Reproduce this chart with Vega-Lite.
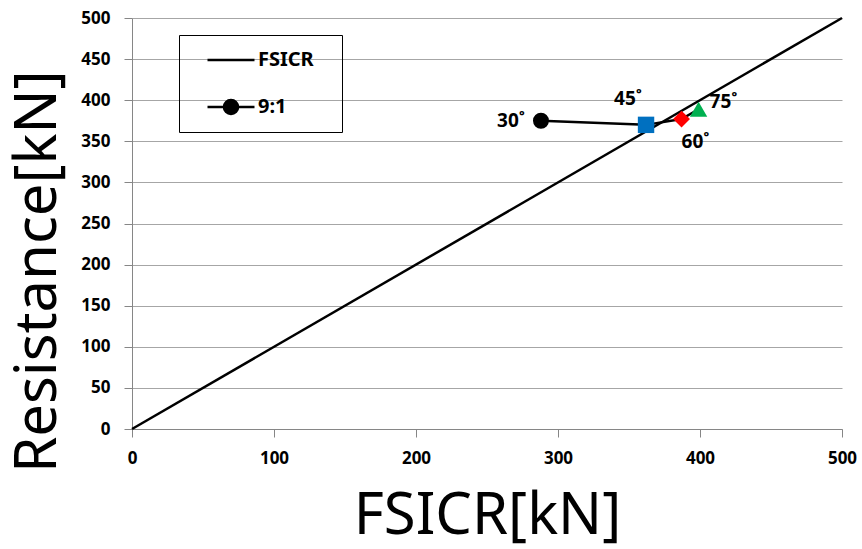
{
  "$schema": "https://vega.github.io/schema/vega-lite/v6.json",
  "width": 710,
  "height": 411,
  "autosize": {"type": "none"},
  "padding": {"left": 132, "top": 18, "right": 20, "bottom": 120},
  "background": "white",
  "config": {
    "view": {"stroke": null},
    "font": "Noto Sans",
    "axis": {
      "domainColor": "#868686",
      "tickColor": "#868686",
      "tickSize": 8,
      "labelFont": "Noto Sans",
      "labelFontSize": 17,
      "labelFontWeight": "bold",
      "labelColor": "#000000",
      "titleFont": "Noto Sans",
      "titleFontSize": 58,
      "titleFontWeight": "normal",
      "titleColor": "#000000",
      "gridColor": "#A6A6A6",
      "gridWidth": 1
    }
  },
  "datasets": {
    "rows": [
      {"series": "FSICR", "x": 0, "y": 0, "angle": null},
      {"series": "FSICR", "x": 500, "y": 500, "angle": null},
      {"series": "9:1", "x": 288, "y": 375, "angle": "30˚"},
      {"series": "9:1", "x": 362, "y": 370, "angle": "45˚"},
      {"series": "9:1", "x": 387, "y": 377, "angle": "60˚"},
      {"series": "9:1", "x": 399, "y": 389, "angle": "75˚"}
    ]
  },
  "data": {"name": "rows"},
  "encoding": {
    "x": {
      "field": "x", "type": "quantitative",
      "scale": {"domain": [0, 500], "nice": false, "zero": false},
      "axis": {
        "values": [0, 100, 200, 300, 400, 500],
        "grid": false,
        "labelFlush": false,
        "labelPadding": 13,
        "title": "FSICR[kN]",
        "titleY": 104,
        "titleBaseline": "alphabetic"
      }
    },
    "y": {
      "field": "y", "type": "quantitative",
      "scale": {"domain": [0, 500], "nice": false, "zero": false},
      "axis": {
        "values": [0, 50, 100, 150, 200, 250, 300, 350, 400, 450, 500],
        "grid": true,
        "labelFlush": false,
        "labelPadding": 14,
        "title": "Resistance[kN]",
        "titleAngle": -90,
        "titleX": -77,
        "titleY": 253,
        "titleAlign": "center",
        "titleBaseline": "alphabetic"
      }
    }
  },
  "layer": [
    {
      "mark": {"type": "line", "strokeWidth": 2.5},
      "encoding": {
        "color": {
          "field": "series", "type": "nominal",
          "scale": {"domain": ["FSICR", "9:1"], "range": ["#000000", "#000000"]},
          "legend": {
            "orient": "none",
            "legendX": 47,
            "legendY": 17,
            "title": "\u00a0",
            "titleOrient": "right",
            "titlePadding": 16,
            "titleFontSize": 10,
            "strokeColor": "#000000",
            "padding": 12,
            "symbolSize": 552,
            "symbolStrokeWidth": 2.5,
            "labelFont": "Noto Sans",
            "labelFontSize": 20,
            "labelFontWeight": "bold",
            "labelColor": "#000000",
            "labelOffset": 14,
            "rowPadding": 24,
            "symbolOffset": 27,
            "encode": {
              "symbols": {
                "update": {
                  "shape": {"signal": "datum.value == '9:1' ? 'M-2,0H2M-0.6,0A0.6,0.6 0 1,1 0.6,0A0.6,0.6 0 1,1 -0.6,0Z' : 'M-2,0H2'"},
                  "fill": {"value": "#000000"},
                  "stroke": {"value": "#000000"}
                }
              }
            }
          }
        }
      }
    },
    {
      "transform": [{"filter": "datum.series == '9:1'"}],
      "mark": {"type": "point", "filled": true, "opacity": 1},
      "encoding": {
        "shape": {
          "field": "angle", "type": "nominal",
          "scale": {"domain": ["30˚", "45˚", "60˚", "75˚"], "range": ["circle", "square", "diamond", "triangle-up"]},
          "legend": null
        },
        "size": {
          "field": "angle", "type": "nominal",
          "scale": {"domain": ["30˚", "45˚", "60˚", "75˚"], "range": [254, 300, 225, 289]},
          "legend": null
        },
        "color": {
          "field": "angle", "type": "nominal",
          "scale": {"domain": ["30˚", "45˚", "60˚", "75˚"], "range": ["#000000", "#0070C0", "#FF0000", "#00B050"]},
          "legend": null
        }
      }
    },
    {
      "transform": [{"filter": "datum.angle == '30˚'"}],
      "mark": {"type": "text", "align": "right", "baseline": "middle", "dx": -16, "dy": 0, "fontSize": 19, "fontWeight": "bold", "font": "Noto Sans", "color": "#000000"},
      "encoding": {"text": {"field": "angle"}}
    },
    {
      "transform": [{"filter": "datum.angle == '45˚'"}],
      "mark": {"type": "text", "align": "center", "baseline": "middle", "dx": -18, "dy": -26, "fontSize": 19, "fontWeight": "bold", "font": "Noto Sans", "color": "#000000"},
      "encoding": {"text": {"field": "angle"}}
    },
    {
      "transform": [{"filter": "datum.angle == '60˚'"}],
      "mark": {"type": "text", "align": "center", "baseline": "middle", "dx": 14, "dy": 23, "fontSize": 19, "fontWeight": "bold", "font": "Noto Sans", "color": "#000000"},
      "encoding": {"text": {"field": "angle"}}
    },
    {
      "transform": [{"filter": "datum.angle == '75˚'"}],
      "mark": {"type": "text", "align": "center", "baseline": "middle", "dx": 25, "dy": -7, "fontSize": 19, "fontWeight": "bold", "font": "Noto Sans", "color": "#000000"},
      "encoding": {"text": {"field": "angle"}}
    }
  ],
  "resolve": {"scale": {"color": "independent", "shape": "independent", "size": "independent"}}
}
